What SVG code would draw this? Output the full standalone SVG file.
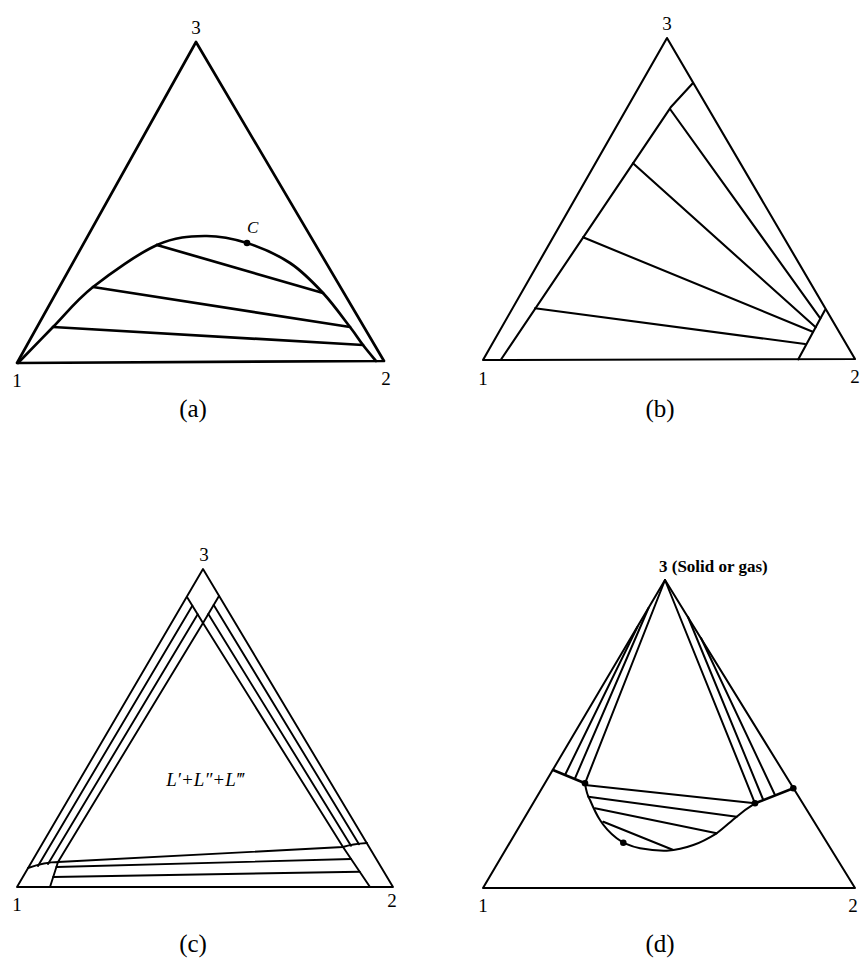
<svg xmlns="http://www.w3.org/2000/svg" width="863" height="965" viewBox="0 0 863 965">
<style>
.ln{fill:none;stroke:#000;stroke-linejoin:round;stroke-linecap:round}
.wa{stroke-width:2.7}
.wb{stroke-width:2.1}
.wc{stroke-width:1.9}
.wd{stroke-width:2}
.lbl{font-family:"Liberation Serif","DejaVu Serif",serif;font-size:19px;fill:#000;text-anchor:middle}
.cap{font-family:"Liberation Serif","DejaVu Serif",serif;font-size:25px;fill:#000;text-anchor:middle}
.it{font-family:"Liberation Serif","DejaVu Serif",serif;font-style:italic;fill:#000}
.dot{fill:#000}
</style>
<rect width="863" height="965" fill="#fff"/>

<g id="diagram-a">
  <g class="ln wa">
    <path d="M17,363 L196,42 L384,361 Z"/>
    <path d="M18,363 C23.8,357 40.5,339.7 53,327 C65.5,314.3 75.7,300.7 93,287 C110.3,273.3 138.3,253.5 157,245 C175.7,236.5 190,236.3 205,236 C220,235.7 232.8,238.5 247,243 C261.2,247.5 277.3,254.7 290,263 C302.7,271.3 313,282.3 323,293 C333,303.7 343.3,318.3 350,327 C356.7,335.7 358.7,339.3 363,345 C367.3,350.7 373.8,358.3 376,361"/>
    <line x1="157" y1="245" x2="323" y2="293"/>
    <line x1="93" y1="287" x2="350" y2="327"/>
    <line x1="53" y1="327" x2="363" y2="345"/>
  </g>
  <circle class="dot" cx="247" cy="243" r="3.3"/>
  <text class="it" x="247" y="233" font-size="17">C</text>
  <text class="lbl" x="196" y="34">3</text>
  <text class="lbl" x="17" y="387">1</text>
  <text class="lbl" x="386" y="385">2</text>
  <text class="cap" x="193" y="417">(a)</text>
</g>

<g id="diagram-b">
  <g class="ln wb">
    <path d="M483,360 L667,38 L855,359 Z"/>
    <path d="M693,83 L670.7,107.3 L500.7,360"/>
    <path d="M825,310 L798.3,359.3"/>
    <line x1="670" y1="109" x2="820.3" y2="318.3"/>
    <line x1="633" y1="163.3" x2="815.7" y2="327.3"/>
    <line x1="583" y1="237.3" x2="812.7" y2="331.7"/>
    <line x1="535" y1="308.3" x2="805" y2="344"/>
  </g>
  <text class="lbl" x="667" y="30">3</text>
  <text class="lbl" x="483" y="385">1</text>
  <text class="lbl" x="855" y="383">2</text>
  <text class="cap" x="660" y="417">(b)</text>
</g>

<g id="diagram-c">
  <g class="ln wc">
    <path d="M17,887 L203,569 L393,887 Z"/>
    <path d="M187,597 L203,623 L219,596"/>
    <path d="M58,862 L203,623 L343,847 Z"/>
    <path d="M28,868 Q45,862 58,862 L50,887"/>
    <path d="M367,843 Q352,844 343,847 L370,887"/>
    <line x1="38" y1="866" x2="192.3" y2="605.7"/>
    <line x1="48" y1="864" x2="197.7" y2="614.3"/>
    <line x1="359" y1="844.3" x2="213.7" y2="605"/>
    <line x1="351" y1="845.7" x2="208.3" y2="614"/>
    <line x1="56.4" y1="867" x2="351" y2="859"/>
    <line x1="53.2" y1="877" x2="359.7" y2="871.7"/>
  </g>
  <text class="it" x="205" y="786" font-size="19" text-anchor="middle">L′+L″+L‴</text>
  <text class="lbl" x="204" y="561">3</text>
  <text class="lbl" x="17" y="911">1</text>
  <text class="lbl" x="392" y="907">2</text>
  <text class="cap" x="193" y="952">(c)</text>
</g>

<g id="diagram-d">
  <g class="ln wd">
    <path d="M483,888 L665,580 L855,888 Z"/>
    <line x1="553" y1="770" x2="585" y2="783.3" stroke-width="2.6"/>
    <line x1="755" y1="803.3" x2="793.3" y2="788.3" stroke-width="2.6"/>
    <line x1="665" y1="580" x2="585" y2="783.3"/>
    <line x1="648.5" y1="608" x2="575" y2="778.3"/>
    <line x1="637.5" y1="626.7" x2="565" y2="775"/>
    <line x1="665" y1="580" x2="755" y2="803.3"/>
    <line x1="688" y1="617" x2="763.3" y2="800"/>
    <line x1="701" y1="638" x2="775" y2="795"/>
    <path d="M585,783.3 C586,790 587,795 590,800 C593,807 596,814 600,820 C605,828 610,833 616.7,838.3 C624,844 631,846.5 640,848.3 C649,850 658,851 666.7,850.7 C676,850 685,848 693.3,845 C702,842 709,838 716.7,833.3 C724,828 730,822 736.7,816.7 C743,811 749,807 755,803.3"/>
    <line x1="585" y1="785" x2="755" y2="803.3"/>
    <line x1="588.3" y1="796.7" x2="736.7" y2="816.7"/>
    <line x1="595" y1="808.3" x2="716.7" y2="833.3"/>
    <line x1="603.3" y1="821.7" x2="673.3" y2="850"/>
  </g>
  <circle class="dot" cx="585" cy="783.3" r="3.3"/>
  <circle class="dot" cx="755" cy="803.3" r="3.3"/>
  <circle class="dot" cx="793.3" cy="788.3" r="3.3"/>
  <circle class="dot" cx="623.3" cy="842.7" r="3.3"/>
  <text x="659" y="572" font-family="Liberation Serif, DejaVu Serif, serif" font-weight="bold" font-size="17">3 (Solid or gas)</text>
  <text class="lbl" x="483" y="912">1</text>
  <text class="lbl" x="853" y="912">2</text>
  <text class="cap" x="660" y="952">(d)</text>
</g>
</svg>
